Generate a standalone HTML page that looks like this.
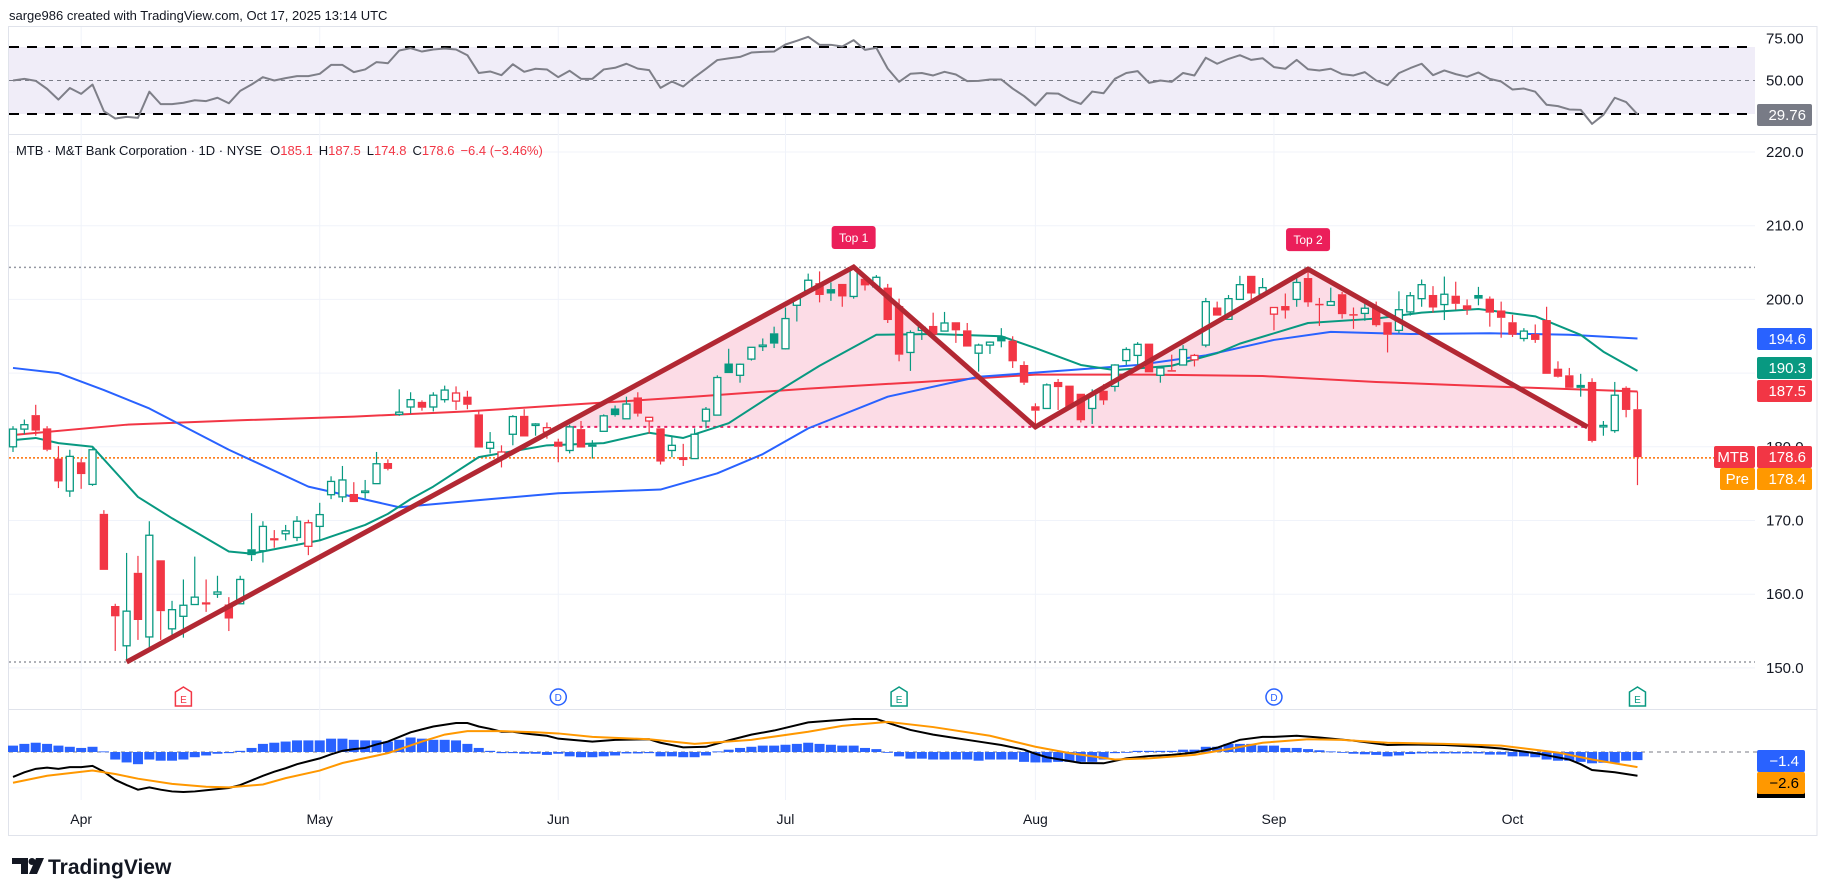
<!DOCTYPE html>
<html><head><meta charset="utf-8"><title>MTB chart</title>
<style>
html,body{margin:0;padding:0;background:#fff;}
svg{display:block;font-family:"Liberation Sans",sans-serif;}
</style></head>
<body>
<svg id="chart" width="1827" height="896" viewBox="0 0 1827 896" xmlns="http://www.w3.org/2000/svg">
<rect x="0" y="0" width="1827" height="896" fill="#fff"/>
<text x="9" y="20" font-size="13" fill="#131722">sarge986 created with TradingView.com, Oct 17, 2025 13:14 UTC</text>
<g id="grid"></g>
<g id="rsi"></g>
<g id="price"></g>
<g id="macd"></g>
<g id="axis"></g>
<text x="16" y="155" font-size="13"><tspan fill="#131722">MTB · M&amp;T Bank Corporation · 1D · NYSE</tspan><tspan fill="#131722" dx="8">O</tspan><tspan fill="#f23645">185.1</tspan><tspan fill="#131722" dx="6">H</tspan><tspan fill="#f23645">187.5</tspan><tspan fill="#131722" dx="6">L</tspan><tspan fill="#f23645">174.8</tspan><tspan fill="#131722" dx="6">C</tspan><tspan fill="#f23645">178.6</tspan><tspan fill="#f23645" dx="6">−6.4 (−3.46%)</tspan></text>
<g>
<path d="M12 858 H28 V874 H21 V864 H12 Z" fill="#131722"/>
<circle cx="32" cy="861.5" r="3.5" fill="#131722"/>
<path d="M36 858 H44 L37 874 H29 Z" fill="#131722"/>
<text x="48" y="874" font-size="21" font-weight="bold" fill="#131722">TradingView</text>
</g>
</svg>
<script>
const opens=[180.0,182.4,184.3,182.5,178.4,174.0,177.9,174.9,170.9,158.4,153.0,162.9,154.2,164.6,155.3,157.0,158.6,158.9,160.0,158.6,158.7,166.1,165.9,167.6,168.2,167.7,166.5,169.2,173.5,173.2,173.6,173.9,175.0,177.8,184.4,185.4,186.1,185.4,186.4,186.2,186.8,184.4,179.8,178.4,181.7,184.2,182.9,182.0,180.7,179.5,182.4,180.3,182.1,185.2,183.8,186.7,183.5,182.5,179.5,178.6,178.4,183.5,184.3,191.3,189.7,191.9,193.7,195.4,193.3,199.2,201.2,202.2,201.4,202.1,200.4,202.8,201.7,201.6,199.1,192.8,195.8,196.4,195.7,196.9,195.8,192.7,193.8,195.0,194.4,191.1,185.5,185.2,188.8,188.3,187.2,185.2,187.6,188.2,191.7,192.4,194.0,189.7,190.4,191.1,191.8,193.8,198.9,197.3,200.0,203.2,200.7,198.0,199.1,200.0,202.9,199.4,199.2,200.7,198.0,198.1,198.9,196.9,195.8,198.3,200.1,200.6,199.3,200.5,199.2,200.6,200.1,198.5,196.9,194.7,195.3,197.2,190.6,189.7,188.4,188.8,182.8,182.2,188.0,185.1];
const highs=[182.8,183.7,185.7,182.8,180.1,179.6,178.4,179.8,171.4,158.7,165.6,165.2,169.9,164.6,159.1,162.0,165.1,162.0,162.5,159.6,162.5,171.0,169.9,168.7,169.4,170.6,170.1,172.4,176.0,177.4,175.2,175.5,179.3,178.3,187.8,187.4,186.3,187.4,188.3,188.2,187.6,184.8,182.0,180.2,184.3,185.1,183.2,183.3,181.1,183.0,183.5,180.9,184.4,185.6,186.8,187.4,184.0,182.5,181.4,180.4,182.5,185.4,189.7,193.3,191.3,193.5,194.7,196.3,198.9,200.4,203.5,203.8,202.3,202.1,204.5,203.3,203.3,202.1,200.1,195.8,196.3,198.2,198.3,196.9,196.8,194.0,194.3,196.1,195.0,191.6,185.9,188.6,189.2,188.3,187.2,187.8,188.5,191.2,193.5,194.2,194.0,190.7,192.5,193.8,192.6,200.2,199.7,200.6,203.2,203.2,202.9,198.9,200.8,202.9,204.1,200.2,201.6,201.0,198.9,199.9,199.7,196.9,201.1,201.0,202.7,201.8,203.1,202.4,200.0,201.7,200.4,199.7,197.9,196.1,196.6,199.0,191.6,190.7,189.9,189.3,183.5,188.8,188.2,187.5];
const lows=[179.3,181.7,181.5,179.4,174.4,173.2,174.3,174.7,163.3,152.3,151.0,153.8,152.6,153.8,153.8,154.1,158.6,157.6,159.5,155.0,158.7,164.5,164.3,166.3,167.3,167.2,165.3,167.3,172.9,172.5,172.5,173.0,175.0,176.8,184.2,184.5,184.9,184.8,186.0,185.0,185.1,179.9,179.1,177.2,180.2,181.4,181.5,181.1,177.9,179.1,179.9,178.4,182.1,184.1,183.8,184.1,181.8,177.6,178.6,177.4,178.4,182.5,184.3,190.0,188.7,191.7,193.0,193.4,193.2,197.0,200.8,199.6,199.8,199.0,200.1,201.2,201.5,196.8,191.6,190.3,194.5,195.2,195.7,194.1,193.6,190.2,192.6,193.5,190.7,188.4,182.5,185.2,185.0,185.4,183.3,183.1,185.7,187.5,191.1,191.1,190.1,188.7,190.3,191.1,190.9,193.5,197.8,197.3,200.0,199.9,200.2,195.8,197.4,199.0,199.0,196.4,199.2,197.4,196.0,197.1,196.3,192.8,195.4,197.8,199.0,198.2,197.2,198.6,197.9,199.2,196.3,194.8,194.9,194.3,194.1,189.9,189.4,188.0,186.8,180.6,181.5,181.9,184.0,174.8];
const closes=[182.4,183.0,182.2,179.6,175.3,178.7,176.3,179.6,163.3,157.0,157.7,156.5,168.0,157.7,157.9,158.5,159.6,158.6,160.3,156.7,162.0,165.3,169.2,167.3,168.6,169.9,169.7,170.8,175.3,175.5,172.5,174.0,177.7,177.0,184.7,186.4,185.3,187.0,187.7,187.3,185.7,179.9,180.6,179.3,184.1,181.4,183.1,182.6,180.0,182.7,179.9,180.0,184.2,184.3,185.8,184.5,184.0,178.0,180.2,178.2,181.7,185.1,189.4,190.0,191.2,193.5,193.8,194.0,197.4,200.1,202.6,200.6,200.8,200.4,204.1,201.9,203.0,197.2,192.5,195.5,196.2,195.2,196.8,195.8,193.6,193.8,194.2,194.3,191.6,188.7,184.9,188.4,188.1,185.4,183.6,187.1,186.3,191.1,193.2,193.9,190.1,190.7,190.3,193.2,192.4,199.7,197.8,200.1,202.0,200.8,201.6,198.9,198.5,202.3,199.6,199.3,199.7,198.0,197.8,198.8,196.5,195.2,198.6,200.5,202.0,198.9,200.7,199.4,198.6,200.1,198.2,197.5,195.2,195.7,194.5,189.9,189.5,188.0,188.0,180.8,182.9,187.0,185.0,178.6];
const smaRedIdx=[0,10,20,30,40,50,60,70,80,90,100,110,120,130,143];
const smaRedVals=[181.6,183.0,183.6,184.1,184.8,185.8,186.8,187.9,188.8,189.8,189.8,189.6,188.8,188.2,187.5];
const smaBlueIdx=[0,4,8,12,19,26,34,42,48,57,62,66,70,77,85,93,99,105,111,116,123,130,137,143];
const smaBlueVals=[190.7,190.0,187.7,185.2,179.6,174.6,171.8,172.9,173.7,174.2,176.4,179.0,182.5,186.8,189.5,190.4,191.1,192.4,194.5,195.6,195.3,195.4,195.2,194.7];
const emaGreenIdx=[0,2,4,7,11,14,19,21,27,31,33,35,37,41,47,52,56,59,63,67,71,76,81,87,90,94,97,102,106,108,114,120,124,129,134,138,140,143];
const emaGreenVals=[180.9,181.2,180.5,180.0,173.2,170.3,165.8,165.5,167.3,169.4,170.9,172.9,174.6,178.6,180.2,180.5,181.9,181.2,183.2,187.2,191.0,195.2,195.3,195.0,193.4,191.1,190.4,191.0,192.7,194.0,196.8,197.4,198.2,198.7,197.7,195.2,192.9,190.3];
const rsiVals=[50.0,51.0,49.8,45.0,38.6,45.5,42.0,47.6,31.7,27.3,28.3,27.7,43.3,35.9,35.9,36.7,38.2,37.7,39.7,36.4,43.8,47.6,52.0,50.0,51.4,52.6,52.6,54.0,59.3,59.3,55.0,56.6,61.0,60.3,67.9,69.3,67.3,68.5,69.1,68.5,65.1,54.5,55.4,53.2,59.7,55.2,57.0,56.6,52.0,55.8,51.0,51.0,56.6,57.6,60.0,57.1,56.2,45.6,49.4,46.4,52.0,57.0,62.2,63.2,64.1,66.7,67.1,67.3,71.5,73.7,76.1,71.3,71.3,70.3,74.1,68.3,69.5,57.1,49.2,54.0,54.5,53.0,55.2,53.6,49.6,49.8,50.6,50.6,45.2,40.7,35.1,42.4,42.2,38.5,36.0,43.4,42.4,51.0,54.5,55.6,48.6,50.0,49.2,54.5,53.0,63.6,60.0,62.9,65.1,62.3,63.3,58.0,57.0,62.3,56.7,56.0,57.0,53.8,53.0,55.0,50.0,47.2,54.4,57.4,60.0,53.2,56.0,53.8,52.2,54.8,51.0,49.4,44.6,45.2,43.3,35.5,34.7,32.7,32.5,24.1,29.5,39.7,37.1,29.8];
const histVals=[1.1,1.4,1.6,1.4,1.1,0.9,0.7,0.9,0.1,-1.3,-1.8,-2.1,-1.3,-1.5,-1.5,-1.3,-0.9,-0.6,-0.3,-0.2,0.2,0.7,1.4,1.6,1.8,2.0,2.0,2.0,2.3,2.3,2.1,2.0,2.0,1.8,2.1,2.5,2.3,2.1,2.1,2.0,1.4,0.7,0.2,-0.2,-0.2,-0.3,-0.3,-0.5,-0.3,-0.75,-0.9,-0.9,-0.75,-0.6,-0.25,-0.25,-0.2,-0.75,-0.75,-0.9,-0.9,-0.6,0.1,0.4,0.7,0.9,1.1,1.1,1.25,1.4,1.6,1.4,1.25,1.1,1.1,0.7,0.5,0,-0.75,-1.15,-1.15,-1.3,-1.3,-1.3,-1.3,-1.5,-1.3,-1.3,-1.3,-1.7,-1.8,-1.8,-1.7,-1.7,-1.7,-1.7,-1.3,-0.2,0,0.2,0.2,0.2,0.2,0.4,0.4,0.9,0.9,1.4,1.4,1.4,1.1,1.1,0.7,0.7,0.5,0.3,0.1,0,-0.3,-0.4,-0.5,-0.75,-0.6,-0.35,-0.25,-0.25,-0.25,-0.25,-0.25,-0.25,-0.45,-0.45,-0.75,-0.75,-0.9,-1.3,-1.5,-1.5,-1.7,-1.95,-1.85,-1.85,-1.5,-1.4];
const macdIdx=[0,1,2,3,4,5,6,7,8,9,10,11,12,13,14,15,16,17,18,19,20,21,22,23,24,25,26,27,28,29,30,31,32,33,34,35,36,37,38,39,40,41,42,43,44,45,46,47,48,51,53,56,57,59,61,63,65,67,70,72,74,76,78,79,81,83,85,87,89,90,91,94,96,98,100,102,104,106,108,110,111,113,115,118,121,123,126,129,131,134,137,138,139,141,143];
const macdVals=[-4.3,-3.5,-2.9,-2.7,-2.9,-2.6,-2.6,-2.4,-3.4,-4.8,-5.7,-6.5,-6.1,-6.5,-6.8,-6.9,-6.8,-6.6,-6.4,-6.2,-5.7,-4.9,-4.1,-3.4,-2.8,-2.1,-1.6,-1.1,-0.4,0.2,0.5,0.7,1.3,1.8,2.6,3.4,3.9,4.4,4.7,5.0,5.0,4.4,4.0,3.5,3.5,3.2,3.0,2.8,2.3,1.8,2.1,2.2,1.6,0.8,0.9,2.0,3.0,3.7,5.1,5.4,5.7,5.7,4.4,3.8,3.0,2.4,1.8,1.2,0.4,-0.3,-0.9,-1.9,-1.95,-1.1,-0.7,-0.5,-0.1,0.75,2.1,2.6,2.6,2.8,2.5,1.95,1.2,1.3,1.2,0.9,0.6,-0.2,-1.3,-2.1,-3.1,-3.5,-4.1];
const signalIdx=[0,3,7,9,11,14,17,19,22,24,27,29,33,36,38,40,43,46,48,51,56,60,65,70,73,77,81,86,90,93,97,100,104,107,110,114,117,121,126,131,136,139,143];
const signalVals=[-5.3,-4.1,-3.2,-3.8,-4.6,-5.5,-6.0,-6.1,-5.6,-4.5,-3.2,-1.9,-0.2,1.8,3.0,3.6,3.6,3.4,3.2,2.6,2.2,1.4,2.1,3.5,4.5,5.2,4.3,2.8,0.9,-0.2,-1.3,-1.1,-0.5,0.5,1.6,2.2,2.1,1.6,1.4,1.1,-0.1,-1.3,-2.6];
const patternIdx=[10,74,90,114,138.6];
const patternPrice=[150.8,204.4,182.7,204.1,182.7];
const neckline=182.7;
const priceTicks=[220,210,200,190,180,170,160,150];
const priceTickLabels=["220.0","210.0","200.0","190.0","180.0","170.0","160.0","150.0"];
const monthIdx=[6,27,48,68,90,111,132];
const monthLabels=["Apr","May","Jun","Jul","Aug","Sep","Oct"];
const eventIdx=[15,48,78,111,143];
const eventTypes=["E-red","D","E","D","E"];
const rsiTicks=[75,50];
const rsiTickLabels=["75.00","50.00"];

const NS="http://www.w3.org/2000/svg";
const X=i=>13+i*11.36;
const Y=p=>152+(220-p)*7.37;
const R=v=>80.5-(v-50)*1.675;
const M=v=>752-v*5.8;
const RIGHT=1755;
function mk(parent,tag,attrs){const e=document.createElementNS(NS,tag);for(const k in attrs)e.setAttribute(k,attrs[k]);parent.appendChild(e);return e;}
const grid=document.getElementById('grid'),rsi=document.getElementById('rsi'),price=document.getElementById('price'),macd=document.getElementById('macd'),axis=document.getElementById('axis');

let fr=mk(grid,'rect',{x:8.5,y:26.5,width:1808.5,height:809,fill:'none',stroke:'#e0e3eb'});


[134,709].forEach(y=>{const l=mk(grid,'line',{x1:8,x2:1817,y1:y+0.5,y2:y+0.5,stroke:'#e0e3eb'});

});
priceTicks.forEach(p=>{const l=mk(grid,'line',{x1:9,x2:RIGHT,y1:Y(p),y2:Y(p),stroke:'#f0f3fa'});

});
monthIdx.forEach((m,k)=>{const l=mk(grid,'line',{x1:X(m),x2:X(m),y1:27,y2:800,stroke:'#f0f3fa'});


const t=mk(grid,'text',{x:X(m),y:824,'font-size':14,fill:'#131722','text-anchor':'middle'});t.textContent=monthLabels[k];

});

let band=mk(rsi,'rect',{x:9,y:R(70),width:RIGHT-9,height:R(30)-R(70),fill:'#f0edf8'});


[70,30].forEach(v=>{const l=mk(rsi,'line',{x1:9,x2:RIGHT,y1:R(v),y2:R(v),stroke:'#000','stroke-width':2,'stroke-dasharray':'10 8'});

});
let mid=mk(rsi,'line',{x1:9,x2:RIGHT,y1:R(50),y2:R(50),stroke:'#787b86','stroke-dasharray':'4 4'});


let rl=mk(rsi,'polyline',{points:rsiVals.map((v,i)=>X(i)+','+R(v)).join(' '),fill:'none',stroke:'#7e7f88','stroke-width':2,'stroke-linejoin':'round'});



function hline(p,color,dash,name,x1){const l=mk(price,'line',{x1:x1||9,x2:RIGHT,y1:Y(p),y2:Y(p),stroke:color,'stroke-width':1.5,'stroke-dasharray':dash});

}
hline(204.35,'#9598a1','2 3','resistance-dotted-line');
hline(150.8,'#9598a1','2 3','support-dotted-line');
hline(closes[closes.length-1]-0.1,'#ff6d00','2 2','last-price-line');

const px=patternIdx.map(X),py=patternPrice.map(Y),ny=Y(neckline);
const t0=(ny-py[0])/(py[1]-py[0]);const sx=px[0]+t0*(px[1]-px[0]);
let fillPts=[[sx,ny],[px[1],py[1]],[px[2],py[2]],[px[3],py[3]],[px[4],py[4]]];
let pf=mk(price,'polygon',{points:fillPts.map(p=>p.join(',')).join(' '),fill:'#fcdce6'});


let nl=mk(price,'line',{x1:sx,x2:px[4]+8,y1:ny,y2:ny,stroke:'#e91e63','stroke-width':2,'stroke-dasharray':'3 4'});



function sparse(idx,vals,color,name,w){const l=mk(price,'polyline',{points:idx.map((i,k)=>X(i)+','+Y(vals[k])).join(' '),fill:'none',stroke:color,'stroke-width':w||2,'stroke-linejoin':'round'});

}
sparse(smaRedIdx,smaRedVals,'#f23645','sma-200-line');
sparse(smaBlueIdx,smaBlueVals,'#2962ff','sma-50-line');
sparse(emaGreenIdx,emaGreenVals,'#089981','ema-20-line');

for(let i=0;i<closes.length;i++){
  const o=opens[i],c=closes[i],h=highs[i],l=lows[i];
  const prev=i>0?closes[i-1]:o;
  const col=c>=prev?'#089981':'#f23645';
  const g=mk(price,'g',{});
  
  
  const x=X(i);
  const top=Y(Math.max(o,c)),bot=Y(Math.min(o,c));
  mk(g,'line',{x1:x,x2:x,y1:Y(h),y2:top,stroke:col,'stroke-width':1.2});
  mk(g,'line',{x1:x,x2:x,y1:bot,y2:Y(l),stroke:col,'stroke-width':1.2});
  const bh=Math.max(1.5,bot-top);
  if(c>o){mk(g,'rect',{x:x-3.5,y:top,width:7,height:bh,fill:'#fff',stroke:col,'stroke-width':1.3});}
  else{mk(g,'rect',{x:x-4.2,y:top,width:8.4,height:bh,fill:col});}
}

let pl=mk(price,'polyline',{points:px.map((x,k)=>x+','+py[k]).join(' '),fill:'none',stroke:'#b22833','stroke-width':5,'stroke-linejoin':'miter'});



[[1,'Top 1'],[3,'Top 2']].forEach(([k,txt],n)=>{
  const g=mk(price,'g',{});
  
  
  const cx=px[k],y=py[k]-41;
  mk(g,'rect',{x:cx-22,y:y,width:44,height:23,rx:3,fill:'#eb1f5a'});
  const t=mk(g,'text',{x:cx,y:y+16,'font-size':12,fill:'#fff','text-anchor':'middle'});t.textContent=txt;
});

eventIdx.forEach((ei,k)=>{
  const typ=eventTypes[k],x=X(ei),y=697;
  const g=mk(price,'g',{});
  
  
  if(typ==='D'){mk(g,'circle',{cx:x,cy:y,r:8,fill:'#fff',stroke:'#2962ff','stroke-width':1.5});
    const t=mk(g,'text',{x:x,y:y+4,'font-size':10,fill:'#2962ff','text-anchor':'middle'});t.textContent='D';}
  else{const col=typ==='E-red'?'#f23645':'#089981';
    mk(g,'path',{d:`M${x} ${y-10} L${x+8} ${y-5} V${y+9} H${x-8} V${y-5} Z`,fill:'#fff',stroke:col,'stroke-width':1.5});
    const t=mk(g,'text',{x:x,y:y+6,'font-size':10,fill:col,'text-anchor':'middle'});t.textContent='E';}
});

let zl=mk(macd,'line',{x1:9,x2:RIGHT+8,y1:M(0),y2:M(0),stroke:'#787b86','stroke-dasharray':'4 4'});


histVals.forEach((v,i)=>{const y0=M(0),y1=M(v);
  const b=mk(macd,'rect',{x:X(i)-5,y:Math.min(y0,y1),width:10,height:Math.max(0.8,Math.abs(y1-y0)),fill:'#2962ff'});
  
  });
let ml=mk(macd,'polyline',{points:macdIdx.map((i,k)=>X(i)+','+M(macdVals[k])).join(' '),fill:'none',stroke:'#000','stroke-width':2});


let sl=mk(macd,'polyline',{points:signalIdx.map((i,k)=>X(i)+','+M(signalVals[k])).join(' '),fill:'none',stroke:'#ff9800','stroke-width':2});



priceTicks.forEach((p,k)=>{const t=mk(axis,'text',{x:1766,y:Y(p)+5,'font-size':15,fill:'#131722'});t.textContent=priceTickLabels[k];

});
rsiTicks.forEach((v,k)=>{const t=mk(axis,'text',{x:1766,y:R(v)+5,'font-size':15,fill:'#131722'});t.textContent=rsiTickLabels[k];

});
function tag(y,txt,bg,fg,name,x,w){const g=mk(axis,'g',{});
  
  
  mk(g,'rect',{x:x||1757,y:y-11,width:w||55,height:22,rx:2,fill:bg});
  const t=mk(g,'text',{x:(x||1757)+(w||55)-6,y:y+5,'font-size':15,fill:fg,'text-anchor':'end'});t.textContent=txt;}
tag(115,'29.76','#787b86','#fff','rsi-value-tag');
tag(339,'194.6','#2962ff','#fff','sma-50-tag');
tag(368,'190.3','#089981','#fff','ema-20-tag');
tag(391,'187.5','#f23645','#fff','sma-200-tag');
tag(457,'178.6','#f23645','#fff','last-price-tag');
tag(457,'MTB','#f23645','#fff','symbol-tag',1714,41);
tag(479,'178.4','#ff9800','#fff','premarket-tag');
tag(479,'Pre','#ff9800','#fff','premarket-label-tag',1720,35);
let bl=mk(axis,'rect',{x:1757,y:792,width:48,height:6,fill:'#000'});


tag(761,'−1.4','#2962ff','#fff','histogram-tag',1757,48);
tag(783,'−2.6','#ff9800','#000','signal-tag',1757,48);
</script>
</body></html>
